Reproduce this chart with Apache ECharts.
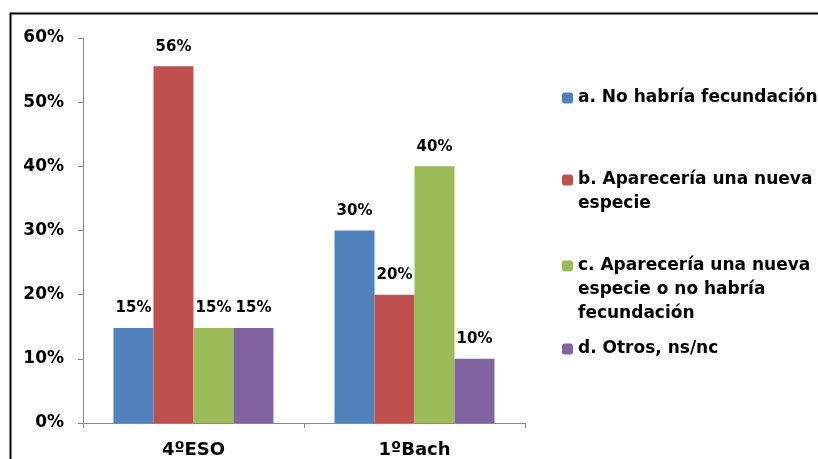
<!DOCTYPE html>
<html>
<head>
<meta charset="utf-8">
<script src="https://cdn.jsdelivr.net/npm/echarts@6/dist/echarts.min.js"></script>
<style>
  html, body { margin: 0; padding: 0; background: #fff; }
  #chart { width: 818px; height: 459px; }
</style>
</head>
<body>
<div id="chart"></div>
<script>
// datos
const cursos = ['4ºESO', '1ºBach']
const respuestas = [
  'a. No habría fecundación',
  'b. Aparecería una nueva especie',
  'c. Aparecería una nueva especie o no habría fecundación',
  'd. Otros, ns/nc'
]
// lineas de la leyenda (como en el original)
const lineasLeyenda = [
  ['a. No habría fecundación'],
  ['b. Aparecería una nueva', 'especie'],
  ['c. Aparecería una nueva', 'especie o no habría', 'fecundación'],
  ['d. Otros, ns/nc']
]
const valoresA = [14.8, 30]
const valoresB = [55.6, 20]
const valoresC = [14.8, 40]
const valoresD = [14.8, 10]
const colores = ['#4F81BD', '#C0504D', '#9BBB59', '#8064A2']

const font = 'DejaVu Sans'
const lh = 24
const leyendaCentro = [98, 180, 266, 349]

const chart = echarts.init(document.getElementById('chart'))

const series = [valoresA, valoresB, valoresC, valoresD].map((vals, i) => ({
  name: respuestas[i],
  type: 'bar',
  data: vals,
  barWidth: 40,
  barGap: '0%',
  itemStyle: { color: colores[i] },
  label: {
    show: true,
    position: 'top',
    distance: 12,
    formatter: p => Math.round(p.value) + '%',
    fontFamily: font,
    fontWeight: 'bold',
    fontSize: 15,
    color: '#000'
  }
}))

// una leyenda por elemento; el icono va alineado con la primera linea
// (se anteponen lineas vacias para que la primera quede centrada en el icono)
const legends = respuestas.map((name, i) => {
  const n = lineasLeyenda[i].length
  return {
    data: [name],
    orient: 'vertical',
    left: 562,
    top: leyendaCentro[i] - (2 * n - 1) * lh / 2,
    padding: 0,
    itemWidth: 11,
    itemHeight: 11,
    selectedMode: false,
    formatter: () => new Array(n - 1).fill(' ').concat(lineasLeyenda[i]).join('\n'),
    textStyle: {
      fontFamily: font,
      fontWeight: 'bold',
      fontSize: 17,
      color: '#000',
      lineHeight: lh
    }
  }
})

chart.setOption({
  animation: false,
  backgroundColor: '#fff',
  grid: { left: 83, right: 293, top: 38, bottom: 36 },
  legend: legends,
  xAxis: {
    type: 'category',
    data: cursos,
    axisLine: { lineStyle: { color: '#898989', width: 1 } },
    axisTick: { show: true, length: 5, lineStyle: { color: '#898989' } },
    axisLabel: {
      margin: 18,
      fontFamily: font,
      fontWeight: 'bold',
      fontSize: 18,
      color: '#000'
    }
  },
  yAxis: {
    type: 'value',
    min: 0,
    max: 60,
    interval: 10,
    splitLine: { show: false },
    axisLine: { show: true, lineStyle: { color: '#898989', width: 1 } },
    axisTick: { show: true, length: 5, lineStyle: { color: '#898989' } },
    axisLabel: {
      margin: 19,
      formatter: '{value}%',
      fontFamily: font,
      fontWeight: 'bold',
      fontSize: 17,
      color: '#000'
    }
  },
  graphic: [{
    type: 'rect',
    left: 8,
    top: 11,
    shape: { width: 830, height: 470 },
    style: { fill: null, stroke: '#000', lineWidth: 2 },
    silent: true
  }],
  series: series
})
</script>
</body>
</html>
